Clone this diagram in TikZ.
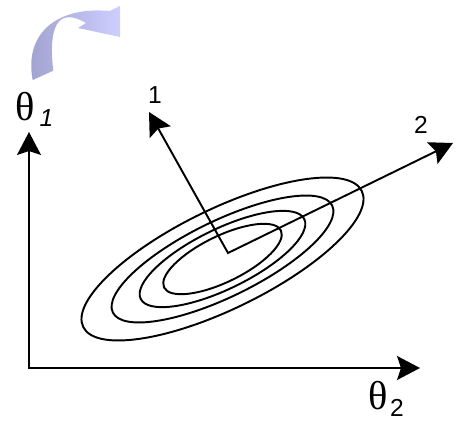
\documentclass[tikz,border=0pt]{standalone}
\usepackage{fontspec}
\setmainfont{Liberation Sans}
\newfontfamily\thetafont{Liberation Serif}
\usepackage{xcolor}
\usetikzlibrary{arrows.meta,positioning}

\definecolor{lavdark}{RGB}{160,160,206}
\definecolor{lavlight}{RGB}{206,206,255}

\begin{document}
\begin{tikzpicture}[
    x=0.02cm, y=0.02cm,
    >={Stealth[length=0.46cm, width=0.48cm, inset=0.08cm]},
    arrow/.style={<->, line width=1.1pt, line join=miter},
    contour/.style={line width=1.1pt},
    axislabel/.style={inner sep=0pt, font=\thetafont\fontsize{23}{26}\selectfont},
    idx/.style={inner sep=0pt, font=\fontsize{14}{16}\selectfont},
    dirlabel/.style={inner sep=0pt, font=\fontsize{14}{16}\selectfont}
]
    \useasboundingbox (0,0) rectangle (464,420);

    % Rotation hint
    \shade[left color=lavdark, right color=lavlight]
        (32.7,340) .. controls (24,385) and (55,414) .. (110,409)
        -- (120,414) -- (120,383) -- (78,392) -- (86,397)
        .. controls (64,410) and (47,404) .. (53.3,349.3) -- cycle;

    % Axes
    \coordinate (origin) at (29,52);
    \coordinate (ytip) at (29,288);
    \coordinate (xtip) at (420,52);
    \node[axislabel] (th1) at (25,313) {θ};
    \node[idx] (sub1) at (46.5,302) {\itshape 1};
    \node[axislabel] (th2) at (378,24) {θ};
    \node[idx] (sub2) at (397,12.5) {2};

    % Contours
    \coordinate (c) at (222.5,161);
    \foreach \a/\b in {155/50, 122/38, 91/30, 65/23}
        \draw[contour] (c) ellipse[x radius=\a, y radius=\b, rotate=26];

    % Principal directions
    \coordinate (v) at (228,167);
    \coordinate (d1) at (149,308);
    \coordinate (d2) at (453,277);
    \node[dirlabel] (n1) at (155,325) {1};
    \node[dirlabel] (n2) at (421,295) {2};

    % Arrows
    \draw[arrow] (ytip) -- (origin) -- (xtip);
    \draw[arrow] (d1) -- (v) -- (d2);
\end{tikzpicture}
\end{document}
